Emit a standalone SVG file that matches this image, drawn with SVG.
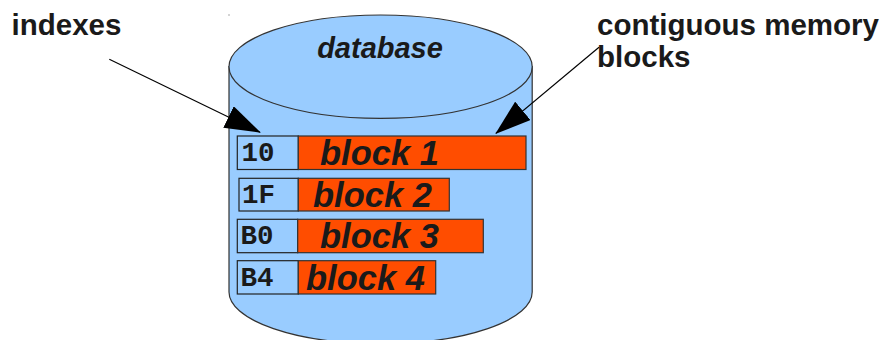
<svg xmlns="http://www.w3.org/2000/svg" width="882" height="340" viewBox="0 0 882 340">
<style>
.cyl{fill:#99ccff;stroke:#333;stroke-width:1.2}
.idx{fill:#99ccff;stroke:#222;stroke-width:1.2}
.blk{fill:#ff4d00;stroke:#333;stroke-width:1.2}
.lbl{font-family:"Liberation Sans",Arial,sans-serif;font-weight:bold;font-size:29.5px;fill:#1a1a1a}
.bt{font-family:"Liberation Sans",Arial,sans-serif;font-weight:bold;font-style:italic;font-size:34.5px;fill:#1a1a1a}
.it{font-family:"Liberation Mono","Courier New",monospace;font-weight:bold;font-size:27.5px;fill:#1a1a1a}
.conn{stroke:#000;stroke-width:1.2;fill:none;marker-end:url(#ah)}
</style>
<defs>
<marker id="ah" markerUnits="userSpaceOnUse" markerWidth="36" markerHeight="24" refX="35" refY="12" orient="auto" viewBox="0 0 36 24">
<path d="M0,0 L36,12 L0,24 Z" fill="#000"/>
</marker>
</defs>
<rect x="228.5" y="14.5" width="1" height="1" fill="#555"/>
<g id="database">
<path class="cyl" d="M229,66.7 L229,292 A151.6,51.7 0 0 0 532.2,292 L532.2,66.7 Z"/>
<ellipse class="cyl" cx="380.6" cy="66.7" rx="151.6" ry="51.7"/>
<text class="bt" x="380" y="58" text-anchor="middle" style="font-size:29px">database</text>
</g>
<g id="row1">
<rect class="idx" x="237.3" y="136" width="61" height="33.5"/>
<rect class="blk" x="298.3" y="136" width="227.7" height="33.5"/>
<text class="it" x="241.5" y="161">10</text>
<text class="bt" x="320" y="165">block 1</text>
</g>
<g id="row2">
<rect class="idx" x="239" y="178.3" width="59.3" height="32.7"/>
<rect class="blk" x="298.3" y="178.3" width="151" height="32.7"/>
<text class="it" x="242" y="203.3">1F</text>
<text class="bt" x="313" y="207.3">block 2</text>
</g>
<g id="row3">
<rect class="idx" x="237.3" y="219.3" width="60.4" height="33.4"/>
<rect class="blk" x="297.7" y="219.3" width="185.6" height="33.4"/>
<text class="it" x="240.5" y="244.3">B0</text>
<text class="bt" x="320" y="248.3">block 3</text>
</g>
<g id="row4">
<rect class="idx" x="237.3" y="260.7" width="61" height="33.3"/>
<rect class="blk" x="298.3" y="260.7" width="137.4" height="33.3"/>
<text class="it" x="240.5" y="286">B4</text>
<text class="bt" x="306" y="290">block 4</text>
</g>
<g id="label-indexes">
<text class="lbl" x="11.5" y="35">indexes</text>
</g>
<g id="label-contiguous">
<text class="lbl" x="597" y="35">contiguous memory</text>
<text class="lbl" x="597" y="66.5">blocks</text>
</g>
<g id="connectors">
<line class="conn" x1="109.3" y1="59.3" x2="260" y2="132.3"/>
<line class="conn" x1="599" y1="47.3" x2="496" y2="133.3"/>
</g>
</svg>
